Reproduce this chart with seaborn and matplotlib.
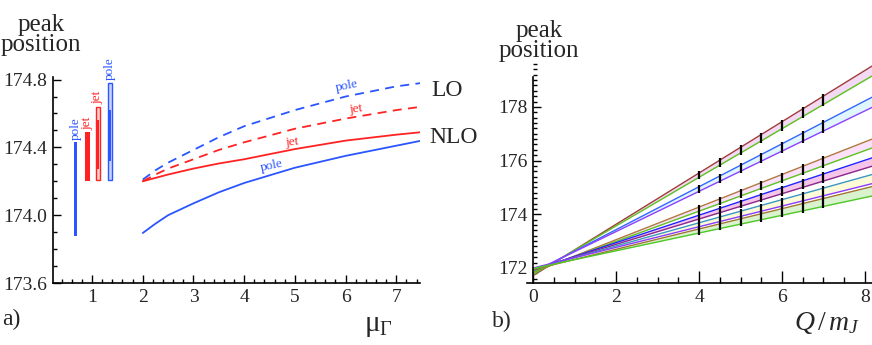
import numpy as np
import pandas as pd
import matplotlib.pyplot as plt
import matplotlib.ticker as mticker
import seaborn as sns

# ── data: panel a) ─────────────────────────────────────────
mu = [2.0, 2.25, 2.5, 3.0, 3.5, 4.0, 5.0, 6.0, 7.0, 7.5]
lo_pole = [174.21, 174.265, 174.31, 174.385, 174.46, 174.525, 174.62, 174.70, 174.76, 174.78]
lo_jet = [174.20, 174.24, 174.275, 174.33, 174.385, 174.43, 174.51, 174.57, 174.62, 174.64]
nlo_jet = [174.20, 174.22, 174.24, 174.275, 174.305, 174.33, 174.39, 174.44, 174.475, 174.49]
nlo_pole = [173.895, 173.95, 174.00, 174.07, 174.135, 174.19, 174.28, 174.35, 174.41, 174.44]

# bars at left (x, low, high)
bar_x = [0.68, 0.91, 1.12, 1.35]
bar_lo = [173.88, 174.20, 174.21, 174.21]
bar_hi = [174.43, 174.49, 174.64, 174.78]
bar_inner_lo = [None, None, 174.275, 174.32]
bar_inner_hi = [None, None, 174.56, 174.62]
bar_names = ["pole", "jet", "jet", "pole"]

# ── data: panel b) ─────────────────────────────────────────
q_ends = [0.0, 8.17]
line_start = [171.72, 171.76, 171.83, 171.86, 171.84, 171.86,
              171.92, 171.94, 171.96, 172.00, 171.94, 171.98]
line_end = [179.52, 179.15, 178.36, 177.98, 176.80, 176.47,
            176.10, 175.79, 175.48, 175.14, 175.03, 174.68]
band_fill = ["#f3d9f3", "#dff6fc", "#fbe0fb", "#f6c6ea", "#fdfbd8", "#d9f3cf"]
err_x = [4.0, 4.5, 5.0, 5.5, 6.0, 6.5, 7.0]

BLUE = "#2b55ff"
RED = "#ff2222"
line_colors = ["#a03a3a", "#5cc420", "#3366ff", "#9040ff", "#b07840", "#5cc420",
               "#2222ff", "#8a2a8a", "#3a98c0", "#8a3cff", "#a07830", "#50c828"]

sns.set_theme(style="ticks")
plt.rcParams["font.family"] = ["Liberation Serif", "DejaVu Serif"]
plt.rcParams["mathtext.fontset"] = "custom"
plt.rcParams["mathtext.rm"] = "Liberation Serif"
plt.rcParams["mathtext.it"] = "Liberation Serif:italic"

fig = plt.figure(figsize=(8.72, 3.45), dpi=100)
ax1 = fig.add_axes([0.0608, 0.1797, 0.421, 0.597])
ax2 = fig.add_axes([0.6044, 0.1797, 0.3956, 0.635])


def style_axis(ax):
    for s in ["top", "right"]:
        ax.spines[s].set_visible(False)
    for s in ["left", "bottom"]:
        ax.spines[s].set_linewidth(1.2)
        ax.spines[s].set_color("black")
    ax.tick_params(which="both", direction="in", width=1.0, color="black",
                   labelsize=14, pad=4)
    ax.tick_params(which="major", length=6)
    ax.tick_params(which="minor", length=3.2)
    ax.grid(False)
    ax.set_facecolor("white")


# ══════════════════════════════════════════════════════════
# a)
# ══════════════════════════════════════════════════════════
df_a = pd.DataFrame({"mu": mu, "LO pole": lo_pole, "LO jet": lo_jet,
                     "NLO jet": nlo_jet, "NLO pole": nlo_pole})
styles = {"LO pole": (BLUE, (0, (5, 3.5))), "LO jet": (RED, (0, (5, 3.5))),
          "NLO jet": (RED, "-"), "NLO pole": (BLUE, "-")}
for col, (c, ls) in styles.items():
    sns.lineplot(data=df_a, x="mu", y=col, ax=ax1, color=c, linestyle=ls,
                 linewidth=1.3)

for i, x in enumerate(bar_x):
    c = BLUE if bar_names[i] == "pole" else RED
    h = bar_hi[i] - bar_lo[i]
    if bar_inner_lo[i] is None:
        w = 0.065 if bar_names[i] == "pole" else 0.09
        ax1.bar(x, h, bottom=bar_lo[i], width=w, color=c, linewidth=0)
    else:
        w = 0.085
        light = "#c9d3ff" if c == BLUE else "#ffd0d0"
        ax1.bar(x, h, bottom=bar_lo[i], width=w, facecolor=light,
                edgecolor=c, linewidth=1.0)
        ax1.bar(x, bar_inner_hi[i] - bar_inner_lo[i], bottom=bar_inner_lo[i],
                width=0.045, color=c, linewidth=0)
    ax1.text(x - 0.01, bar_hi[i] + 0.015, bar_names[i], rotation=90, color=c,
             fontsize=9.5, ha="center", va="bottom", clip_on=False)

# labels along curves
ax1.text(6.03, 174.712, "pole", color=BLUE, fontsize=9.5, rotation=11,
         ha="center", va="bottom")
ax1.text(6.2, 174.583, "jet", color=RED, fontsize=9.5, rotation=8,
         ha="center", va="bottom")
ax1.text(4.95, 174.393, "jet", color=RED, fontsize=9.5, rotation=7,
         ha="center", va="bottom")
ax1.text(4.55, 174.243, "pole", color=BLUE, fontsize=9.5, rotation=12,
         ha="center", va="bottom")
ax1.text(7.7, 174.735, "LO", fontsize=17, ha="left", va="center", clip_on=False)
ax1.text(7.66, 174.46, "NLO", fontsize=17, ha="left", va="center", clip_on=False)

ax1.set_xlim(0.23, 7.47)
ax1.set_ylim(173.6, 174.815)
ax1.xaxis.set_major_locator(mticker.MultipleLocator(1))
ax1.xaxis.set_minor_locator(mticker.MultipleLocator(0.2))
ax1.yaxis.set_major_locator(mticker.MultipleLocator(0.4))
ax1.yaxis.set_minor_locator(mticker.MultipleLocator(0.1))
ax1.yaxis.set_major_formatter(mticker.FormatStrFormatter("%.1f"))
ax1.set_xlabel("")
ax1.set_ylabel("")
style_axis(ax1)

# ══════════════════════════════════════════════════════════
# b)
# ══════════════════════════════════════════════════════════
for k in range(6):
    hi = [line_start[2 * k], line_end[2 * k]]
    lo = [line_start[2 * k + 1], line_end[2 * k + 1]]
    ax2.fill_between(q_ends, lo, hi, color=band_fill[k], linewidth=0)

for i in range(12):
    sns.lineplot(x=q_ends, y=[line_start[i], line_end[i]], ax=ax2,
                 color=line_colors[i], linewidth=1.0)

for k in range(6):
    for x in err_x:
        f = x / q_ends[1]
        y_hi = line_start[2 * k] + f * (line_end[2 * k] - line_start[2 * k])
        y_lo = line_start[2 * k + 1] + f * (line_end[2 * k + 1] - line_start[2 * k + 1])
        ax2.vlines(x, y_lo - 0.07, y_hi + 0.07, color="black", linewidth=1.6,
                   zorder=5)

ax2.set_xlim(-0.15, 8.17)
ax2.set_ylim(171.44, 179.6)
ax2.spines["left"].set_position(("data", 0))
ax2.spines["left"].set_bounds(171.44, 179.1)
ax2.xaxis.set_major_locator(mticker.MultipleLocator(2))
ax2.xaxis.set_minor_locator(mticker.MultipleLocator(0.5))
ax2.yaxis.set_major_locator(mticker.MultipleLocator(2))
ax2.yaxis.set_minor_locator(mticker.MultipleLocator(0.2))
ax2.set_xlabel("")
ax2.set_ylabel("")
style_axis(ax2)
ax2.tick_params(axis="x", which="major", length=9)
ax2.tick_params(axis="x", which="minor", length=4.5)

# ── figure texts ───────────────────────────────────────────
fig.text(41 / 872, 1 - 35 / 345, "peak\nposition", fontsize=18, ha="center",
         va="center", linespacing=0.9)
fig.text(539 / 872, 1 - 41 / 345, "peak\nposition", fontsize=18, ha="center",
         va="center", linespacing=0.9)
fig.text(2 / 872, 1 - 319 / 345, "a)", fontsize=17, ha="left", va="center")
fig.text(492 / 872, 1 - 321 / 345, "b)", fontsize=17, ha="left", va="center")
fig.text(378 / 872, 1 - 326 / 345, r"$\mathrm{μ}_{\mathrm{Γ}}$", fontsize=21,
         ha="center", va="center")
fig.text(827 / 872, 1 - 323 / 345, r"$Q\,/\,m_J$", fontsize=20,
         ha="center", va="center")

fig.savefig("out.png", dpi=100)
